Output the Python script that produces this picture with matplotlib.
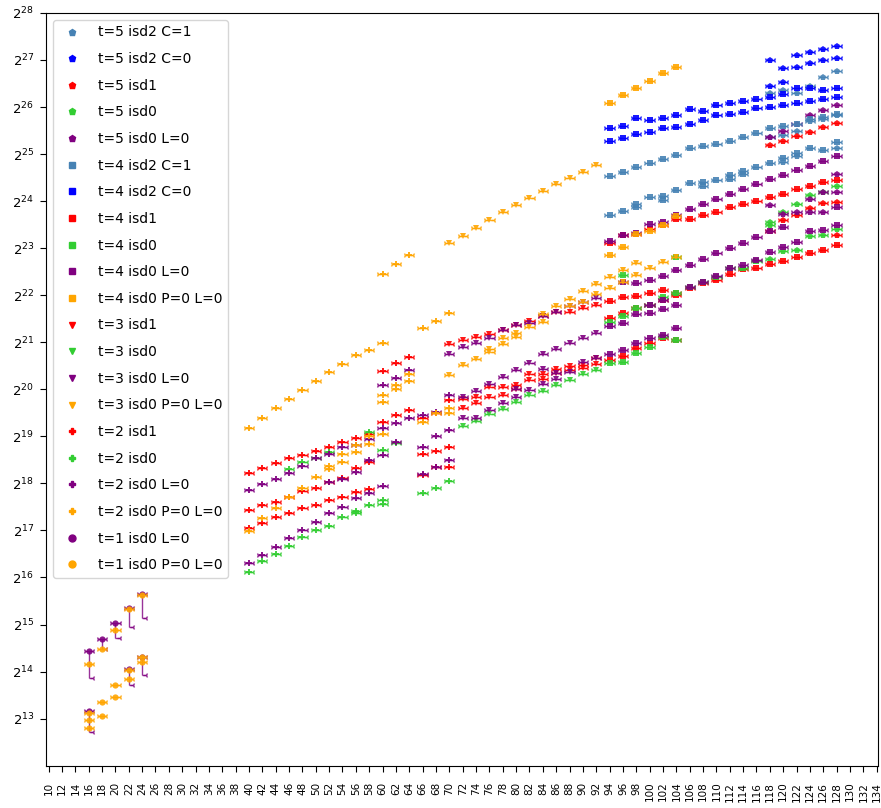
import numpy as np
import matplotlib
matplotlib.use("Agg")
import matplotlib.pyplot as plt
from matplotlib.lines import Line2D

# ---------------- data (x = parameter, values = log2 of cost) ----------------
labels = ["t=5 isd2 C=1", "t=5 isd2 C=0", "t=5 isd1", "t=5 isd0", "t=5 isd0 L=0",
          "t=4 isd2 C=1", "t=4 isd2 C=0", "t=4 isd1", "t=4 isd0", "t=4 isd0 L=0",
          "t=4 isd0 P=0 L=0", "t=3 isd1", "t=3 isd0", "t=3 isd0 L=0", "t=3 isd0 P=0 L=0",
          "t=2 isd1", "t=2 isd0", "t=2 isd0 L=0", "t=2 isd0 P=0 L=0",
          "t=1 isd0 L=0", "t=1 isd0 P=0 L=0"]

t5_isd2_C1_x = [118, 120, 122, 124, 126, 128, 118, 120, 122, 124, 126, 128, 120, 122, 128]
t5_isd2_C1_y = [26.29, 26.36, 26.30, 26.45, 26.63, 26.77, 25.36, 25.40, 25.50, 25.70, 25.75, 25.82,
                24.83, 24.95, 25.13]

t5_isd2_C0_x = [118, 120, 122, 124, 126, 128, 118, 120, 122, 124, 126, 128]
t5_isd2_C0_y = [26.99, 26.84, 27.11, 27.18, 27.23, 27.30, 26.45, 26.54, 26.86, 26.93, 27.01, 27.04]

t5_isd1_x = [118, 120, 122, 124, 126, 128, 118, 120, 122, 124, 126, 128, 128]
t5_isd1_y = [25.19, 25.28, 25.39, 25.47, 25.57, 25.67, 23.36, 23.60, 23.70, 23.85, 23.96, 23.99, 23.28]

t5_isd0_x = [118, 120, 122, 124, 126, 128, 118, 120, 122, 124, 126, 128, 118]
t5_isd0_y = [23.55, 23.77, 23.94, 24.12, 24.19, 24.33, 22.76, 22.94, 22.97, 23.26, 23.29, 23.40, 23.50]

t5_isd0_L0_x = [118, 120, 122, 124, 126, 128, 118, 120, 122, 124, 126, 128, 128, 124, 126]
t5_isd0_L0_y = [25.36, 25.50, 25.64, 25.83, 25.94, 26.04, 23.91, 23.72, 23.77, 24.05, 24.19, 24.19,
                24.57, 23.77, 23.77]

t4_isd2_C1_x = [94, 96, 98, 100, 102, 104, 106, 108, 110, 112, 114, 116, 118, 120, 122, 124, 126, 128,
                94, 96, 98, 100, 102, 104, 106, 108, 110, 112, 114, 116, 118, 120, 122, 124, 126, 128,
                98, 102, 108, 112, 114]
t4_isd2_C1_y = [24.54, 24.62, 24.73, 24.80, 24.89, 24.98, 25.12, 25.18, 25.21, 25.28, 25.36, 25.44,
                25.55, 25.60, 25.64, 25.74, 25.79, 25.85,
                23.70, 23.79, 23.94, 24.09, 24.10, 24.23, 24.38, 24.40, 24.45, 24.55, 24.64, 24.73,
                24.80, 24.91, 25.02, 25.12, 25.09, 25.26,
                23.88, 24.03, 24.33, 24.48, 24.57]

t4_isd2_C0_x = [94, 96, 98, 100, 102, 104, 106, 108, 110, 112, 114, 116, 118, 120, 122, 124, 126, 128,
                94, 96, 98, 100, 102, 104, 106, 108, 110, 112, 114, 116, 118, 120, 122, 124, 126, 128]
t4_isd2_C0_y = [25.28, 25.35, 25.42, 25.47, 25.55, 25.58, 25.64, 25.72, 25.83, 25.85, 25.90, 25.97,
                25.99, 26.04, 26.08, 26.13, 26.18, 26.22,
                25.55, 25.60, 25.77, 25.72, 25.77, 25.83, 25.95, 25.92, 26.04, 26.08, 26.13, 26.16,
                26.22, 26.28, 26.40, 26.40, 26.36, 26.40]

t4_isd1_x = [94, 96, 98, 100, 102, 104, 106, 108, 110, 112, 114, 116, 118, 120, 122, 124, 126, 128,
             94, 96, 98, 100, 102, 104, 106, 108, 110, 112, 114, 116, 118, 120, 122, 124, 126, 128,
             94, 96, 98, 100, 102, 104, 94, 96, 98, 100, 102, 104]
t4_isd1_y = [23.10, 23.28, 23.30, 23.40, 23.50, 23.62, 23.61, 23.70, 23.77, 23.87, 23.94, 24.00,
             24.08, 24.15, 24.25, 24.33, 24.40, 24.45,
             21.88, 21.96, 21.98, 22.05, 22.11, 22.05, 22.15, 22.25, 22.33, 22.46, 22.55, 22.57,
             22.66, 22.73, 22.81, 22.90, 22.97, 23.06,
             21.52, 21.62, 21.72, 21.80, 21.90, 22.00, 20.62, 20.70, 20.87, 20.98, 21.09, 21.04]

t4_isd0_x = [94, 96, 98, 100, 102, 104, 106, 108, 110, 112, 114, 116,
             94, 96, 98, 100, 102, 104, 96, 104]
t4_isd0_y = [21.43, 21.55, 21.72, 21.79, 21.96, 22.05, 22.18, 22.28, 22.39, 22.57, 22.57, 22.73,
             20.55, 20.58, 20.77, 20.90, 21.12, 21.04, 22.43, 22.81]

t4_isd0_L0_x = [94, 96, 98, 100, 102, 104, 106, 108, 110, 112, 114, 116, 118, 120, 122, 124, 126, 128,
                96, 98, 100, 102, 104, 106, 108, 110, 112, 114, 116, 118, 120, 128,
                94, 96, 98, 100, 102, 104, 106, 108, 110, 112, 114, 116, 118, 120, 122, 124, 126, 128,
                94, 96, 98, 100, 102, 104, 100, 102]
t4_isd0_L0_y = [23.16, 23.28, 23.32, 23.51, 23.55, 23.70, 23.83, 23.94, 24.04, 24.15, 24.26, 24.36,
                24.46, 24.55, 24.66, 24.75, 24.86, 24.96,
                22.28, 22.26, 22.32, 22.41, 22.53, 22.64, 22.76, 22.89, 23.00, 23.11, 23.23, 23.36,
                23.45, 23.87,
                21.34, 21.40, 21.60, 21.62, 21.71, 21.79, 22.18, 22.28, 22.40, 22.57, 22.64, 22.74,
                22.92, 23.03, 23.13, 23.37, 23.38, 23.49,
                20.74, 20.83, 20.98, 21.09, 21.15, 21.30, 21.79, 21.89]

t4_P0_x = [94, 96, 98, 100, 102, 104, 94, 96, 98, 100, 102, 104]
t4_P0_y = [26.09, 26.26, 26.41, 26.55, 26.72, 26.86, 22.85, 23.03, 23.30, 23.36, 23.50, 23.68]

t3_isd1_x = [70, 72, 74, 76, 78, 80, 82, 84, 86, 88, 90, 92,
             72, 74, 76, 78, 80, 82, 84, 86, 88, 90, 92,
             72, 74, 76, 78, 80, 82, 84, 86, 88, 90, 92]
t3_isd1_y = [20.96, 21.04, 21.11, 21.17, 21.26, 21.36, 21.45, 21.55, 21.64, 21.64, 21.73, 21.79,
             19.79, 19.84, 20.05, 20.04, 20.09, 20.32, 20.33, 20.44, 20.49, 20.51, 20.66,
             19.60, 19.71, 19.83, 19.87, 20.00, 20.20, 20.21, 20.34, 20.40, 20.45, 20.53]

t3_isd0_x = [72, 74, 76, 78, 80, 82, 84, 86, 88, 90, 92]
t3_isd0_y = [19.23, 19.33, 19.47, 19.59, 19.73, 19.87, 19.96, 20.09, 20.19, 20.32, 20.40]

t3_isd0_L0_x = [70, 72, 74, 76, 78, 80, 82, 84, 86, 88, 90, 92,
                72, 74, 76, 78, 80, 82, 84, 86, 88, 90, 92,
                72, 74, 76, 78, 80, 82, 84, 86, 88, 90, 92, 80, 84, 86]
t3_isd0_L0_y = [20.76, 20.89, 20.98, 21.10, 21.26, 21.36, 21.40, 21.55, 21.64, 21.77, 21.86, 21.95,
                19.84, 19.96, 20.12, 20.26, 20.40, 20.56, 20.76, 20.85, 20.98, 21.08, 21.19,
                19.40, 19.40, 19.55, 19.71, 19.84, 19.98, 20.11, 20.21, 20.37, 20.58, 20.66,
                20.00, 20.43, 20.34]

t3_P0_x = [70, 72, 74, 76, 78, 80, 82, 84, 86, 88, 90, 92,
           70, 72, 74, 76, 78, 80, 82, 84, 86, 88, 90, 92, 94, 96, 98, 100, 102, 104,
           76, 78, 80, 84, 88, 90, 92, 94, 96, 98]
t3_P0_y = [23.10, 23.26, 23.43, 23.60, 23.76, 23.91, 24.07, 24.21, 24.36, 24.50, 24.62, 24.77,
           20.30, 20.51, 20.65, 20.85, 21.08, 21.19, 21.32, 21.61, 21.76, 21.91, 22.09, 22.23,
           22.38, 22.53, 22.69, 22.57, 22.71, 22.81,
           20.80, 20.96, 21.12, 21.43, 21.77, 21.86, 22.02, 22.16, 22.28, 22.43]

t2_isd1_x = [40, 42, 44, 46, 48, 50, 52, 54, 56, 58, 60, 62, 64, 66, 68, 70,
             40, 42, 44, 46, 48, 50, 52, 54, 56, 58,
             40, 42, 44, 46, 48, 50, 52, 54, 56, 58,
             66, 68, 70, 66, 68, 70, 60, 62, 64]
t2_isd1_y = [18.23, 18.32, 18.43, 18.53, 18.60, 18.68, 18.77, 18.87, 18.96, 19.06, 19.30, 19.45,
             19.55, 19.40, 19.50, 19.77,
             17.43, 17.53, 17.60, 17.72, 17.83, 17.91, 18.02, 18.12, 18.32, 18.45,
             17.06, 17.15, 17.28, 17.36, 17.47, 17.53, 17.64, 17.70, 17.81, 17.89,
             18.62, 18.68, 18.77, 18.17, 18.34, 18.34, 20.38, 20.55, 20.68]

t2_isd0_x = [40, 42, 44, 46, 48, 50, 52, 54, 56, 58, 60, 66, 68, 70,
             46, 48, 50, 52, 58, 60, 62, 56, 60]
t2_isd0_y = [16.11, 16.36, 16.49, 16.66, 16.85, 17.00, 17.10, 17.28, 17.42, 17.53, 17.65, 17.79,
             17.91, 18.06,
             18.30, 18.45, 18.55, 18.66, 19.09, 18.70, 18.85, 17.36, 17.57]

t2_isd0_L0_x = [40, 42, 44, 46, 48, 50, 52, 54, 56, 58, 60, 62, 64, 66, 68, 70,
                40, 42, 44, 46, 48, 50, 52, 54, 56, 58, 60,
                52, 54, 56, 58, 60, 62, 66, 68, 70,
                66, 68, 70, 60, 62, 64]
t2_isd0_L0_y = [17.85, 17.98, 18.10, 18.23, 18.38, 18.53, 18.62, 18.77, 18.81, 18.95, 19.17, 19.28,
                19.40, 19.45, 19.51, 19.87,
                16.30, 16.47, 16.64, 16.83, 17.00, 17.17, 17.36, 17.49, 17.68, 17.79, 17.94,
                18.02, 18.10, 18.25, 18.50, 18.60, 18.87, 18.77, 19.00, 19.13,
                18.21, 18.34, 18.49, 20.10, 20.25, 20.40]

t2_P0_x = [40, 42, 44, 46, 48, 50, 52, 54, 56, 58, 60, 60, 62, 64, 66, 68, 70,
           40, 42, 44, 46, 48, 50, 52, 54, 56, 58, 60, 52, 54, 56, 58,
           60, 62, 64, 60, 62, 64, 66, 68, 70, 70]
t2_P0_y = [19.17, 19.38, 19.60, 19.79, 19.98, 20.17, 20.36, 20.53, 20.72, 20.83, 20.98,
           22.45, 22.66, 22.85, 21.30, 21.45, 21.63,
           16.98, 17.26, 17.47, 17.70, 17.91, 18.13, 18.38, 18.62, 18.81, 19.00, 19.05,
           18.30, 18.45, 18.66, 18.83,
           19.87, 20.10, 20.32, 19.74, 20.00, 20.17, 19.30, 19.50, 19.60, 19.50]

t1_L0_x = [16, 18, 20, 22, 24, 16, 22, 24]
t1_L0_y = [14.43, 14.70, 15.04, 15.35, 15.65, 13.16, 14.06, 14.32]
t1_L0_lo = [13.87, 14.49, 14.72, 14.94, 15.13, 12.71, 13.72, 13.93]

t1_P0_x = [16, 18, 20, 22, 24, 16, 18, 20, 22, 24, 16, 18, 20, 22, 24, 16]
t1_P0_y = [14.17, 14.49, 14.89, 15.32, 15.62, 13.12, 13.35, 13.72, 14.04, 14.32,
           12.79, 13.06, 13.47, 13.84, 14.20, 12.96]

x_ticks = list(range(10, 135, 2))
y_tick_exps = list(range(13, 29))

# ---------------- series table ----------------
series = [
    (labels[0], "steelblue", "p", t5_isd2_C1_x, t5_isd2_C1_y, None),
    (labels[1], "blue", "p", t5_isd2_C0_x, t5_isd2_C0_y, None),
    (labels[2], "red", "p", t5_isd1_x, t5_isd1_y, None),
    (labels[3], "limegreen", "p", t5_isd0_x, t5_isd0_y, None),
    (labels[4], "purple", "p", t5_isd0_L0_x, t5_isd0_L0_y, None),
    (labels[5], "steelblue", "s", t4_isd2_C1_x, t4_isd2_C1_y, None),
    (labels[6], "blue", "s", t4_isd2_C0_x, t4_isd2_C0_y, None),
    (labels[7], "red", "s", t4_isd1_x, t4_isd1_y, None),
    (labels[8], "limegreen", "s", t4_isd0_x, t4_isd0_y, None),
    (labels[9], "purple", "s", t4_isd0_L0_x, t4_isd0_L0_y, None),
    (labels[10], "orange", "s", t4_P0_x, t4_P0_y, None),
    (labels[11], "red", "v", t3_isd1_x, t3_isd1_y, None),
    (labels[12], "limegreen", "v", t3_isd0_x, t3_isd0_y, None),
    (labels[13], "purple", "v", t3_isd0_L0_x, t3_isd0_L0_y, None),
    (labels[14], "orange", "v", t3_P0_x, t3_P0_y, None),
    (labels[15], "red", "P", t2_isd1_x, t2_isd1_y, None),
    (labels[16], "limegreen", "P", t2_isd0_x, t2_isd0_y, None),
    (labels[17], "purple", "P", t2_isd0_L0_x, t2_isd0_L0_y, None),
    (labels[18], "orange", "P", t2_P0_x, t2_P0_y, None),
    (labels[19], "purple", "o", t1_L0_x, t1_L0_y, t1_L0_lo),
    (labels[20], "orange", "o", t1_P0_x, t1_P0_y, None),
]

fig = plt.figure(figsize=(8.81, 8.08), dpi=100)
ax = fig.add_axes([0.0522, 0.0524, 0.9444, 0.9316])
ax.set_yscale("log", base=2)

HALF = 0.62
handles = []
for lab, col, mk, xs, ly, lo in series:
    xs = np.asarray(xs, float)
    ys = 2.0 ** np.asarray(ly, float)
    if lo is not None:
        ylo = 2.0 ** np.asarray(lo, float)
        ax.vlines(xs, ylo, ys, color=col, lw=1.0, alpha=0.8)
        ax.hlines(ylo, xs, xs + HALF, color=col, lw=1.0, alpha=0.8)
        ax.plot(xs + HALF, ylo, ls="none", marker="3", color=col, ms=4, mew=1.0, alpha=0.8)
    ax.hlines(ys, xs - HALF, xs + HALF, color=col, lw=1.0, alpha=0.85)
    ax.plot(xs - HALF, ys, ls="none", marker="4", color=col, ms=4, mew=1.0, alpha=0.85)
    ax.plot(xs + HALF, ys, ls="none", marker="3", color=col, ms=4, mew=1.0, alpha=0.85)
    ax.plot(xs, ys, ls="none", marker=mk, color=col, ms=4.5, mew=0, alpha=0.9)
    handles.append(Line2D([], [], ls="none", marker=mk, color=col, ms=5, label=lab))

ax.set_xlim(9.6, 134.2)
ax.set_ylim(2.0 ** 12, 2.0 ** 28)
ax.set_xticks(x_ticks)
ax.set_xticklabels([str(v) for v in x_ticks], rotation=90, fontsize=7.5)
ax.set_yticks([2.0 ** e for e in y_tick_exps])
ax.set_yticklabels([r"$2^{%d}$" % e for e in y_tick_exps], fontsize=9.5)
ax.minorticks_off()
ax.tick_params(axis="x", length=4.5, pad=7)
ax.tick_params(axis="y", length=4.5, pad=4)

ax.legend(handles=handles, loc="upper left", fontsize=10, labelspacing=0.91,
          handletextpad=0.83, borderpad=0.4, frameon=True, fancybox=True, framealpha=0.8)

fig.savefig("out.png", dpi=100)
